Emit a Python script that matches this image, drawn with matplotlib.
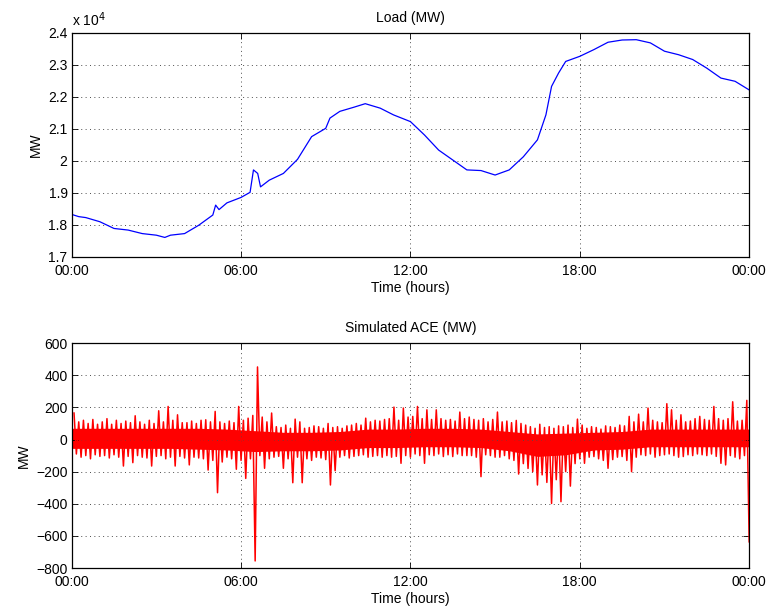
import numpy as np
import matplotlib
matplotlib.use('Agg')
from matplotlib import pyplot as plt
from matplotlib.ticker import FuncFormatter

plt.rcParams['font.family'] = ['Liberation Sans', 'DejaVu Sans']
plt.rcParams['font.size'] = 10

# load curve, hours of day and MW
load_hours = [0, 0.25, 0.5, 1, 1.5, 2, 2.5, 3, 3.3, 3.5, 4, 4.5, 5.0, 5.1, 5.22,
              5.5, 6, 6.32, 6.44, 6.59, 6.69, 7, 7.5, 8, 8.5, 9, 9.15, 9.5, 10,
              10.4, 10.93, 11.4, 12, 12.5, 13, 13.5, 14, 14.5, 15, 15.5, 16,
              16.5, 16.8, 17, 17.25, 17.5, 18, 18.5, 19, 19.5, 20, 20.5, 21,
              21.5, 22, 22.5, 23, 23.5, 24]
load_mw = [18330, 18260, 18230, 18100, 17890, 17840, 17730, 17680, 17610, 17680,
           17730, 17990, 18310, 18620, 18480, 18690, 18860, 19020, 19720, 19610,
           19190, 19400, 19610, 20050, 20760, 21020, 21340, 21550, 21680, 21790,
           21650, 21440, 21230, 20810, 20340, 20030, 19720, 19700, 19560, 19720,
           20130, 20660, 21440, 22330, 22750, 23110, 23270, 23480, 23710, 23780,
           23790, 23690, 23430, 23320, 23170, 22900, 22590, 22490, 22220]

# simulated ACE: upper / lower swing in each 10 minute bin (MW)
ace_hi = [165, 110, 120, 100, 125, 95,
          110, 130, 95, 120, 100, 115,
          105, 148, 110, 95, 120, 100,
          179, 110, 206, 120, 154, 105,
          105, 115, 100, 120, 123, 110,
          175, 110, 100, 115, 105, 206,
          120, 133, 150, 452, 140, 110,
          165, 80, 75, 90, 70, 127,
          110, 70, 75, 85, 80, 70,
          100, 75, 80, 70, 85, 90,
          100, 90, 133, 110, 120, 115,
          125, 130, 202, 120, 196, 140,
          144, 206, 130, 185, 125, 185,
          130, 120, 125, 115, 171, 130,
          140, 125, 120, 130, 110, 125,
          171, 110, 115, 105, 119, 100,
          90, 80, 70, 95, 75, 80,
          70, 85, 80, 90, 75, 127,
          90, 70, 80, 75, 65, 85,
          80, 75, 90, 85, 144, 110,
          158, 110, 196, 120, 110, 105,
          223, 185, 120, 154, 110, 115,
          130, 144, 125, 120, 206, 130,
          120, 130, 235, 115, 120, 244]
ace_lo = [-90, -110, -100, -120, -95, -105,
          -100, -115, -95, -110, -165, -105,
          -144, -100, -110, -115, -165, -105,
          -100, -120, -110, -165, -105, -115,
          -158, -110, -115, -120, -190, -130,
          -331, -140, -110, -120, -185, -130,
          -242, -120, -756, -100, -179, -120,
          -110, -105, -179, -120, -269, -110,
          -269, -120, -130, -110, -115, -125,
          -283, -194, -110, -100, -115, -105,
          -100, -95, -110, -105, -100, -110,
          -100, -110, -105, -148, -100, -110,
          -90, -100, -148, -95, -100, -90,
          -106, -95, -106, -90, -100, -100,
          -100, -110, -231, -95, -100, -110,
          -110, -100, -120, -130, -215, -150,
          -180, -200, -283, -220, -267, -398,
          -250, -387, -200, -290, -150, -120,
          -148, -110, -106, -120, -130, -179,
          -125, -110, -106, -130, -200, -110,
          -95, -100, -90, -110, -100, -95,
          -90, -100, -110, -106, -95, -100,
          -90, -95, -100, -90, -105, -148,
          -158, -100, -110, -120, -100, -637]

# solid part of the ACE band, at each half hour mark (MW)
core_t = [0, 0.5, 1.5, 2.5, 3.5, 4.5, 5.5, 6.5, 7.5, 8.5, 9.5, 10.5, 11.5,
          12.5, 13.5, 14.5, 15.5, 16.5, 17.5, 18.5, 19.5, 20.5, 21.5, 22.5,
          23.5, 24]
core_hi = [70, 70, 70, 70, 70, 70, 65, 55, 45, 45, 50, 65, 65,
           70, 70, 65, 50, 35, 40, 45, 50, 65, 65, 65, 65, 65]
core_lo = [-55, -55, -55, -55, -55, -60, -65, -75, -70, -70, -65, -50, -50,
           -45, -45, -50, -70, -105, -95, -65, -60, -45, -45, -45, -45, -45]

hour_ticks = [0, 6, 12, 18, 24]
hour_labels = ['00:00', '06:00', '12:00', '18:00', '00:00']


def style(ax):
    ax.set_xlim(0, 24)
    ax.set_xticks(hour_ticks)
    ax.set_xticklabels(hour_labels)
    ax.tick_params(direction='in', length=4, width=0.6, top=True, right=True,
                   labelsize=10)
    ax.tick_params(axis='x', pad=5)
    ax.tick_params(axis='y', pad=3)
    ax.grid(True, color='0.3', linestyle=(0, (1, 3.5)), linewidth=0.7)
    for s in ax.spines.values():
        s.set_linewidth(0.9)
    ax.set_xlabel('Time (hours)', labelpad=2)
    ax.set_ylabel('MW')


fig = plt.figure(figsize=(7.69, 6.06), dpi=100)
ax1 = fig.add_axes([0.0932, 0.576, 0.881, 0.3696])
ax2 = fig.add_axes([0.0932, 0.0627, 0.881, 0.371])

ax1.plot(load_hours, load_mw, color='b', linewidth=0.9)
ax1.set_ylim(17000, 24000)
ax1.set_yticks(np.arange(17000, 24001, 1000))
ax1.yaxis.set_major_formatter(FuncFormatter(lambda v, p: f'{v / 1e4:g}'))
ax1.text(0, 1.018, r'x 10$^4$', transform=ax1.transAxes, ha='left', va='bottom')
ax1.set_title('Load (MW)', fontsize=10, pad=8)
style(ax1)

n = len(ace_hi)
t_hi = np.arange(n) / 6 + 1 / 12
t_lo = (np.arange(n) + 1) / 6
t_ace = np.column_stack([t_hi, t_lo]).ravel()
ace = np.column_stack([ace_hi, ace_lo]).ravel()
ax2.fill_between(core_t, core_hi, core_lo, color='r', linewidth=0)
ax2.plot(t_ace, ace, color='r', linewidth=1.1)
ax2.set_ylim(-800, 600)
ax2.set_yticks(np.arange(-800, 601, 200))
ax2.set_title('Simulated ACE (MW)', fontsize=10, pad=8)
style(ax2)

fig.savefig('out.png', dpi=100)
